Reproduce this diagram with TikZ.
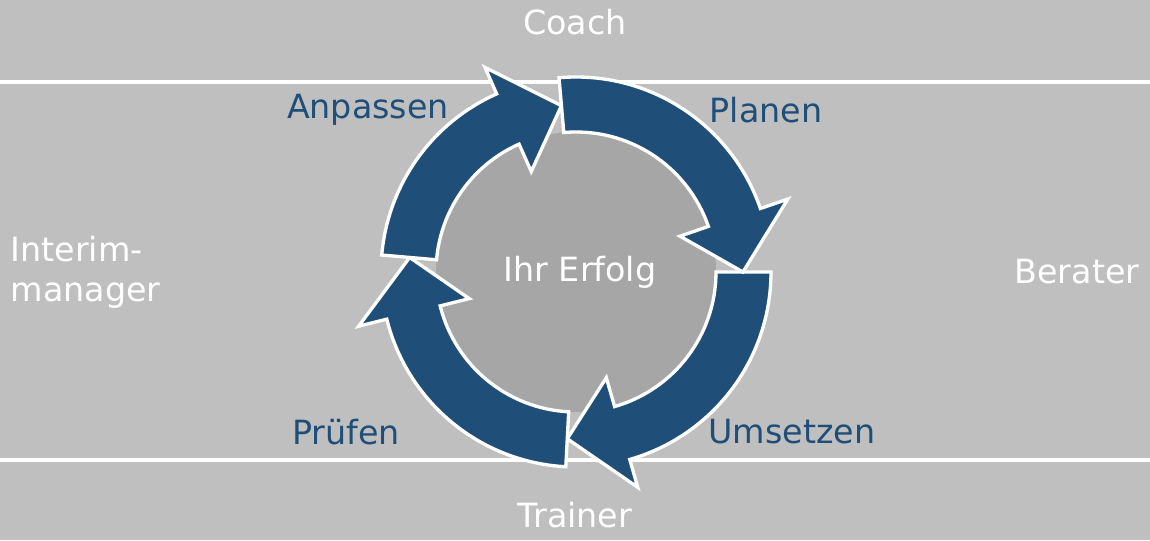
\documentclass[tikz,border=0pt]{standalone}
\usepackage{fontspec}
\setmainfont{DejaVu Sans}
\definecolor{bgGray}{HTML}{BFBFBF}
\definecolor{coreGray}{HTML}{A6A6A6}
\definecolor{cycleBlue}{HTML}{1F4E79}
\newcommand{\cyclearrow}[2]{%
  \fill[cycleBlue, draw=white, line width=2.5pt, line join=miter]
    (#1:195) arc[start angle=#1, end angle=#2+19, radius=195]
    -- (#2+19:224) -- (#2:167) -- (#2+19:110) -- (#2+19:140)
    arc[start angle=#2+19, end angle=#1, radius=140] -- cycle;}
\begin{document}
\begin{tikzpicture}[
    x=0.75pt, y=0.75pt,
    role/.style={text=white, font=\fontsize{25}{30}\selectfont},
    phase/.style={text=cycleBlue, font=\fontsize{25}{30}\selectfont}
  ]
  \fill[bgGray] (0,0) rectangle (1150,540);
  \useasboundingbox (0,0) rectangle (1150,540);
  \draw[white, line width=2.5pt] (0,458) -- (1150,458);
  \draw[white, line width=2.5pt] (0,80) -- (1150,80);
  \begin{scope}[shift={(576,268)}]
    \fill[coreGray] (0,0) circle[radius=140];
    \cyclearrow{0}{-93}
    \cyclearrow{267}{175}
    \cyclearrow{175}{95}
    \cyclearrow{95}{0}
    \node[role] (core) at (4,0) {Ihr Erfolg};
  \end{scope}
  \node[role] (coach) at (575,518) {Coach};
  \node[role] (trainer) at (575,25) {Trainer};
  \node[role] (berater) at (1077,268) {Berater};
  \node[role, align=left, anchor=west] (interim) at (6,268) {Interim-\\manager};
  \node[phase] (anpassen) at (368,430) {Anpassen};
  \node[phase] (planen) at (766,430) {Planen};
  \node[phase] (pruefen) at (346,108) {Prüfen};
  \node[phase] (umsetzen) at (792,108) {Umsetzen};
\end{tikzpicture}
\end{document}
